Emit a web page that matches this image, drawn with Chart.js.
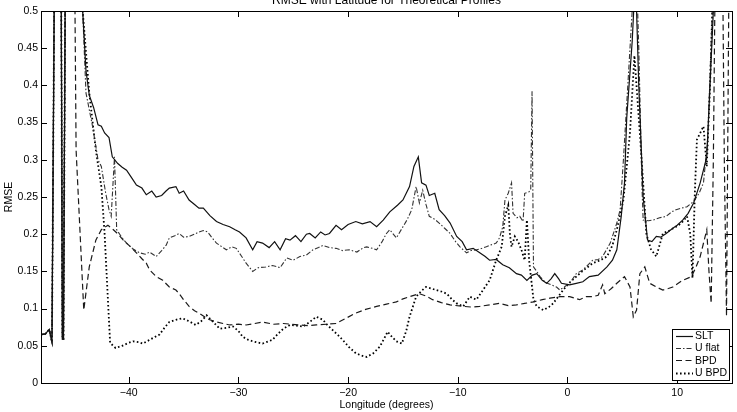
<!DOCTYPE html>
<html><head><meta charset="utf-8">
<script src="https://cdn.jsdelivr.net/npm/chart.js@4/dist/chart.umd.min.js"></script>
<style>html,body{margin:0;padding:0;background:#fff}#wrap{width:737px;height:412px}</style>
</head><body><div id="wrap"><canvas id="c" width="737" height="412"></canvas></div>
<script>
const titleText = "RMSE with Latitude for Theoretical Profiles";
const xTitle = "Longitude (degrees)";
const yTitle = "RMSE";
const seriesNames = ["SLT", "U flat", "BPD", "U BPD"];
const xTicks = [-40, -30, -20, -10, 0, 10];
const yTicks = [0, 0.05, 0.1, 0.15, 0.2, 0.25, 0.3, 0.35, 0.4, 0.45, 0.5];

// [longitude, RMSE] pairs (values above 0.5 run off the top)
const leftPart = [[-48,0.065],[-47.6,0.066],[-47.25,0.072],[-47.0,0.055],[-46.8,0.5],[-46.7,1.5],[-46.25,1.5],[-46.15,0.5],[-46.05,0.059],[-45.95,0.059],[-45.8,0.5],[-45.7,1.5]];

const sltPts = [[-44.5,0.8],[-44.2,0.5],[-43.9,0.42],[-43.6,0.387],[-43.2,0.37],[-42.8,0.347],[-42.5,0.345],[-42.2,0.336],[-41.8,0.33],[-41.5,0.304],[-41.0,0.295],[-40.6,0.29],[-40.2,0.286],[-39.7,0.275],[-39.3,0.266],[-38.8,0.262],[-38.4,0.253],[-37.9,0.258],[-37.5,0.25],[-37.0,0.252],[-36.6,0.258],[-36.3,0.262],[-35.7,0.264],[-35.4,0.255],[-35.0,0.258],[-34.5,0.246],[-34.0,0.24],[-33.6,0.235],[-33.2,0.235],[-32.6,0.225],[-32.0,0.217],[-31.4,0.213],[-30.8,0.21],[-30.3,0.206],[-29.9,0.203],[-29.3,0.195],[-28.7,0.179],[-28.3,0.19],[-27.8,0.188],[-27.2,0.182],[-26.7,0.19],[-26.2,0.179],[-25.7,0.194],[-25.3,0.192],[-24.8,0.198],[-24.3,0.19],[-23.8,0.2],[-23.5,0.201],[-23.0,0.195],[-22.5,0.203],[-22.1,0.199],[-21.7,0.201],[-21.1,0.212],[-20.6,0.206],[-20.0,0.213],[-19.3,0.217],[-18.7,0.214],[-18.0,0.217],[-17.4,0.21],[-16.8,0.219],[-16.2,0.23],[-15.5,0.239],[-15.0,0.246],[-14.4,0.264],[-14.0,0.291],[-13.6,0.304],[-13.3,0.269],[-12.9,0.266],[-12.6,0.252],[-12.1,0.255],[-11.7,0.233],[-11.2,0.225],[-10.7,0.215],[-10.1,0.197],[-9.6,0.19],[-9.2,0.179],[-8.6,0.181],[-8.0,0.175],[-7.5,0.17],[-7.1,0.165],[-6.5,0.166],[-5.9,0.159],[-5.3,0.155],[-4.65,0.147],[-4.2,0.145],[-3.7,0.138],[-3.2,0.145],[-2.8,0.147],[-2.3,0.138],[-1.9,0.134],[-1.5,0.14],[-1.16,0.147],[-0.8,0.14],[-0.55,0.134],[0.2,0.132],[0.8,0.134],[1.4,0.136],[2.0,0.143],[2.8,0.145],[3.6,0.156],[4.1,0.165],[4.5,0.179],[4.9,0.224],[5.2,0.269],[5.4,0.356],[5.9,0.459],[6.2,0.55],[6.5,0.4],[6.9,0.25],[7.3,0.192],[7.7,0.19],[8.1,0.197],[8.5,0.196],[9.0,0.201],[9.6,0.208],[10.0,0.212],[10.5,0.219],[11.0,0.228],[11.5,0.242],[12.1,0.269],[12.7,0.304],[13.3,0.5],[13.5,0.7],[14.0,0.9],[15,1.2]];

const uflatPts = [[-44.5,0.8],[-44.2,0.5],[-43.9,0.39],[-43.3,0.345],[-42.8,0.3],[-42.5,0.291],[-42.1,0.255],[-41.8,0.233],[-41.6,0.224],[-41.3,0.304],[-41.1,0.206],[-40.6,0.195],[-40.2,0.188],[-39.6,0.18],[-39.0,0.175],[-38.5,0.173],[-38.1,0.176],[-37.5,0.17],[-37.0,0.178],[-36.6,0.185],[-36.3,0.195],[-35.8,0.198],[-35.4,0.201],[-35.0,0.196],[-34.5,0.197],[-34.0,0.2],[-33.6,0.203],[-33.2,0.205],[-32.8,0.203],[-32.4,0.195],[-32.0,0.188],[-31.5,0.183],[-31.1,0.179],[-30.6,0.183],[-30.2,0.181],[-29.7,0.17],[-29.3,0.161],[-28.7,0.15],[-28.2,0.155],[-27.5,0.156],[-26.9,0.158],[-26.2,0.155],[-25.6,0.168],[-25.0,0.165],[-24.4,0.17],[-23.8,0.172],[-23.2,0.179],[-22.7,0.182],[-22.3,0.185],[-21.7,0.182],[-21.1,0.181],[-20.5,0.178],[-19.9,0.179],[-19.2,0.176],[-18.6,0.182],[-18.3,0.183],[-17.8,0.181],[-17.4,0.179],[-16.9,0.19],[-16.5,0.201],[-16.2,0.206],[-15.6,0.195],[-15.0,0.21],[-14.6,0.22],[-14.2,0.233],[-13.8,0.264],[-13.5,0.242],[-13.2,0.259],[-12.9,0.24],[-12.6,0.224],[-12.1,0.22],[-11.7,0.215],[-11.2,0.208],[-10.7,0.201],[-10.2,0.19],[-9.8,0.183],[-9.2,0.175],[-8.8,0.178],[-8.3,0.179],[-7.8,0.181],[-7.4,0.183],[-6.9,0.186],[-6.5,0.188],[-6.2,0.195],[-5.9,0.21],[-5.7,0.246],[-5.4,0.255],[-5.1,0.269],[-4.96,0.228],[-4.6,0.222],[-4.35,0.224],[-4.05,0.217],[-3.9,0.255],[-3.5,0.257],[-3.35,0.26],[-3.23,0.392],[-3.1,0.156],[-2.8,0.15],[-2.5,0.143],[-2.0,0.135],[-1.5,0.132],[-1.0,0.129],[-0.7,0.125],[-0.2,0.13],[0.2,0.134],[0.8,0.147],[1.4,0.152],[2.3,0.165],[2.8,0.166],[3.2,0.17],[3.9,0.188],[4.5,0.215],[4.8,0.233],[5.1,0.3],[5.5,0.4],[5.9,0.5],[6.2,0.6],[6.5,0.45],[6.8,0.26],[6.9,0.219],[7.4,0.218],[7.8,0.219],[8.4,0.222],[9.0,0.224],[9.5,0.23],[9.9,0.233],[10.4,0.235],[10.9,0.237],[11.5,0.244],[12.0,0.255],[12.4,0.269],[12.8,0.33],[13.2,0.5],[13.5,0.8],[14.0,1.0],[15,1.0]];

const bpdPts = [[-45.05,0.8],[-44.9,0.5],[-44.8,0.313],[-44.1,0.098],[-43.6,0.156],[-43.0,0.192],[-42.5,0.206],[-41.9,0.212],[-41.4,0.206],[-40.9,0.199],[-40.5,0.192],[-39.9,0.184],[-39.3,0.175],[-38.8,0.167],[-38.4,0.161],[-38.1,0.152],[-37.5,0.143],[-36.9,0.138],[-36.3,0.129],[-35.7,0.125],[-35.4,0.12],[-35.0,0.112],[-34.5,0.103],[-34.0,0.097],[-33.6,0.094],[-32.8,0.086],[-32.0,0.082],[-31.4,0.08],[-30.8,0.078],[-30.0,0.079],[-29.3,0.078],[-28.5,0.08],[-27.8,0.082],[-26.8,0.079],[-25.9,0.08],[-25.2,0.079],[-24.4,0.078],[-23.6,0.077],[-22.9,0.078],[-22.0,0.079],[-21.1,0.08],[-20.2,0.087],[-19.3,0.094],[-18.4,0.099],[-17.4,0.103],[-16.5,0.106],[-15.6,0.109],[-15.0,0.113],[-14.4,0.116],[-13.5,0.12],[-12.9,0.117],[-12.3,0.112],[-11.5,0.108],[-10.7,0.105],[-9.5,0.103],[-8.7,0.102],[-8.0,0.103],[-7.1,0.105],[-6.2,0.107],[-5.4,0.104],[-4.65,0.105],[-3.9,0.107],[-3.1,0.109],[-2.3,0.112],[-1.6,0.114],[-0.7,0.116],[0.2,0.116],[1.1,0.112],[1.7,0.116],[2.3,0.116],[2.8,0.118],[3.2,0.132],[3.4,0.12],[4.0,0.127],[4.5,0.134],[5.2,0.143],[5.7,0.129],[6.0,0.089],[6.3,0.098],[6.6,0.147],[7.05,0.156],[7.5,0.134],[8.1,0.129],[8.7,0.125],[9.2,0.127],[9.6,0.129],[10.0,0.133],[10.5,0.138],[11.3,0.143],[11.7,0.155],[12.1,0.17],[12.7,0.206],[12.9,0.15],[13.1,0.107],[13.3,0.3],[13.5,0.6],[14.0,0.8],[14.3,0.3],[14.5,0.09],[14.7,0.5],[15,1.0]];

const ubpdPts = [[-44.5,0.8],[-44.2,0.5],[-43.6,0.39],[-43.0,0.313],[-42.5,0.264],[-42.2,0.201],[-41.9,0.112],[-41.7,0.054],[-41.2,0.047],[-40.6,0.05],[-40.0,0.054],[-39.6,0.056],[-39.1,0.055],[-38.7,0.053],[-38.1,0.058],[-37.6,0.062],[-37.2,0.065],[-36.7,0.075],[-36.3,0.082],[-35.7,0.085],[-35.1,0.087],[-34.5,0.083],[-33.9,0.078],[-33.4,0.083],[-32.9,0.091],[-32.3,0.082],[-31.7,0.073],[-31.1,0.074],[-30.5,0.076],[-30.0,0.07],[-29.6,0.062],[-29.1,0.058],[-28.7,0.056],[-27.8,0.053],[-26.9,0.058],[-26.4,0.066],[-25.9,0.073],[-25.3,0.078],[-24.7,0.077],[-24.1,0.076],[-23.5,0.082],[-22.9,0.089],[-22.3,0.085],[-21.9,0.078],[-21.4,0.071],[-20.9,0.064],[-20.5,0.058],[-19.9,0.048],[-19.3,0.04],[-18.8,0.037],[-18.3,0.035],[-17.7,0.04],[-17.1,0.049],[-16.7,0.06],[-16.4,0.069],[-16.0,0.062],[-15.6,0.056],[-15.1,0.053],[-14.7,0.07],[-14.4,0.089],[-13.8,0.116],[-13.3,0.124],[-12.9,0.129],[-12.4,0.127],[-12.0,0.125],[-11.5,0.123],[-11.0,0.12],[-10.5,0.112],[-10.1,0.107],[-9.5,0.103],[-8.9,0.116],[-8.3,0.112],[-7.7,0.125],[-7.1,0.138],[-6.5,0.165],[-6.0,0.183],[-5.7,0.224],[-5.4,0.239],[-5.25,0.2],[-5.1,0.183],[-4.8,0.197],[-4.5,0.19],[-4.2,0.179],[-3.9,0.165],[-3.7,0.219],[-3.5,0.165],[-3.1,0.112],[-2.8,0.103],[-2.2,0.098],[-1.7,0.102],[-1.3,0.107],[-0.8,0.117],[-0.4,0.125],[0.2,0.135],[0.8,0.143],[1.5,0.152],[2.3,0.161],[3.0,0.165],[3.6,0.17],[4.1,0.185],[4.5,0.206],[5.1,0.246],[5.7,0.336],[6.1,0.44],[6.6,0.336],[7.2,0.2],[7.6,0.18],[8.1,0.17],[8.7,0.201],[9.3,0.205],[9.9,0.21],[10.4,0.215],[10.9,0.224],[11.2,0.2],[11.4,0.141],[11.6,0.25],[11.8,0.327],[12.4,0.345],[12.7,0.291],[13.0,0.4],[13.3,0.55],[14.0,0.8],[15,1.0]];

const lineDashes = [[], [5,2,1.5,2], [6,3.5], [1.6,2.4]];
const lineWidths = [1.2, 1.1, 1.2, 1.8];
const lineColors = ['#111', '#333', '#1a1a1a', '#000'];
const seriesPts = [sltPts, uflatPts, bpdPts, ubpdPts];
const FONT = "Liberation Sans, Arial, Helvetica, sans-serif";

const datasets = seriesNames.map((name, i) => ({
  label: name,
  data: leftPart.concat(seriesPts[i]).map(p => ({x: p[0], y: p[1]})),
  borderColor: lineColors[i],
  borderWidth: lineWidths[i],
  borderDash: lineDashes[i],
  pointRadius: 0,
  tension: 0,
  fill: false
}));

function fmtMinus(v){ return (v < 0 ? '\u2212' + Math.abs(v) : String(v)); }

const decor = {
  id: 'decor',
  afterDraw(chart) {
    const ctx = chart.ctx, a = chart.chartArea;
    const xs = chart.scales.x, ys = chart.scales.y;
    ctx.save();
    ctx.strokeStyle = '#000'; ctx.lineWidth = 1; ctx.setLineDash([]);
    ctx.strokeRect(Math.round(a.left)+0.5, Math.round(a.top)+0.5, Math.round(a.right-a.left), Math.round(a.bottom-a.top));
    const tl = 6;
    ctx.beginPath();
    xTicks.forEach(v => {
      const px = Math.round(xs.getPixelForValue(v)) + 0.5;
      ctx.moveTo(px, a.bottom); ctx.lineTo(px, a.bottom - tl);
      ctx.moveTo(px, a.top); ctx.lineTo(px, a.top + tl);
    });
    yTicks.forEach(v => {
      const py = Math.round(ys.getPixelForValue(v)) + 0.5;
      ctx.moveTo(a.left, py); ctx.lineTo(a.left + tl, py);
      ctx.moveTo(a.right, py); ctx.lineTo(a.right - tl, py);
    });
    ctx.stroke();
    ctx.fillStyle = '#000';
    ctx.font = '12px ' + FONT;
    ctx.textAlign = 'center'; ctx.textBaseline = 'alphabetic';
    ctx.fillText(titleText, (a.left + a.right)/2, 4);
    ctx.font = '10.5px ' + FONT;
    ctx.textBaseline = 'middle';
    ctx.fillText(xTitle, (a.left + a.right)/2, 405);
    ctx.save();
    ctx.translate(9, (a.top + a.bottom)/2);
    ctx.rotate(-Math.PI/2);
    ctx.fillText(yTitle, 0, 0);
    ctx.restore();
    const lx = 672, ly = 329, lw = 57, lh = 51;
    ctx.fillStyle = '#fff';
    ctx.fillRect(lx, ly, lw, lh);
    ctx.strokeStyle = '#000'; ctx.lineWidth = 1;
    ctx.strokeRect(lx + 0.5, ly + 0.5, lw, lh);
    ctx.font = '10.5px ' + FONT;
    ctx.textAlign = 'left'; ctx.textBaseline = 'middle';
    chart.data.datasets.forEach((ds, i) => {
      const yy = ly + 6.5 + i * 12.4;
      ctx.strokeStyle = ds.borderColor;
      ctx.setLineDash(ds.borderDash);
      ctx.lineWidth = ds.borderWidth;
      ctx.beginPath(); ctx.moveTo(lx + 4, Math.round(yy)+0.5); ctx.lineTo(lx + 21, Math.round(yy)+0.5); ctx.stroke();
      ctx.setLineDash([]);
      ctx.fillStyle = '#000';
      ctx.fillText(ds.label, lx + 23, yy + 0.5);
    });
    ctx.restore();
  }
};

new Chart(document.getElementById('c'), {
  type: 'line',
  data: { datasets },
  options: {
    responsive: false,
    devicePixelRatio: 1,
    animation: false,
    layout: { padding: { top: 11, right: 5, left: 0, bottom: 0 } },
    plugins: { legend: { display: false }, title: { display: false }, tooltip: { enabled: false } },
    scales: {
      x: {
        type: 'linear', min: -48, max: 15,
        afterBuildTicks: s => { s.ticks = xTicks.map(v => ({value: v})); },
        afterFit: s => { s.height = 29; },
        grid: { display: false, drawTicks: false },
        border: { display: false },
        ticks: { color: '#000', font: { size: 10.5, family: FONT }, padding: 4, maxRotation: 0, callback: v => fmtMinus(v) }
      },
      y: {
        type: 'linear', min: 0, max: 0.5,
        afterBuildTicks: s => { s.ticks = yTicks.map(v => ({value: v})); },
        afterFit: s => { s.width = 41; },
        grid: { display: false, drawTicks: false },
        border: { display: false },
        ticks: { color: '#000', font: { size: 10.5, family: FONT }, padding: 3, callback: v => String(+v.toFixed(2)) }
      }
    }
  },
  plugins: [decor]
});
</script>
</body></html>
